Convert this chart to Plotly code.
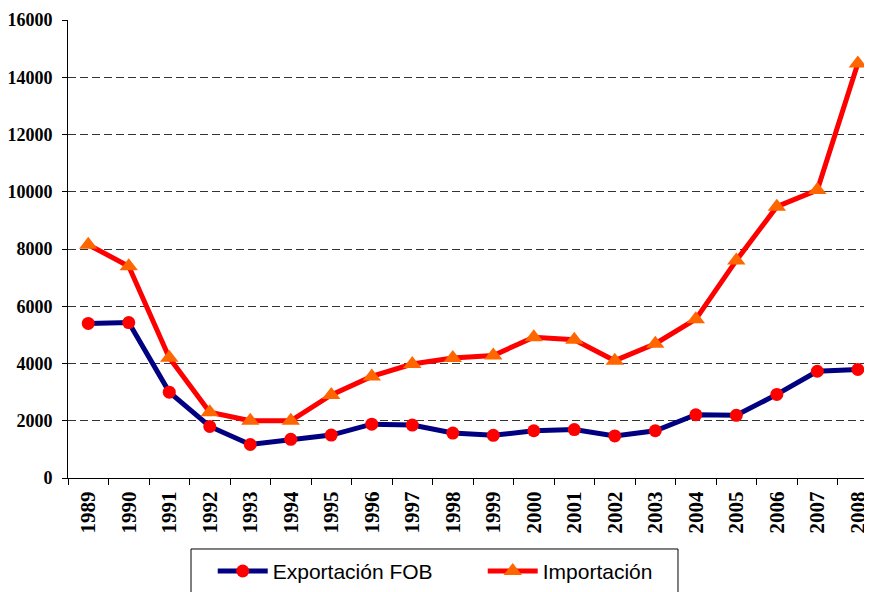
import plotly.graph_objects as go

years = [str(y) for y in range(1989, 2009)]
exportacion = [5400, 5430, 3000, 1800, 1170, 1350, 1500, 1880, 1850, 1570,
               1490, 1650, 1690, 1470, 1650, 2210, 2190, 2920, 3730, 3790]
importacion = [8150, 7400, 4200, 2300, 2000, 2000, 2900, 3550, 3980, 4190,
               4280, 4920, 4830, 4100, 4690, 5550, 7600, 9480, 10060, 14480]
y_ticks = [0, 2000, 4000, 6000, 8000, 10000, 12000, 14000, 16000]

SERIF = "Times New Roman, Liberation Serif, serif"

fig = go.Figure()
fig.add_trace(go.Scatter(
    x=years, y=exportacion, name="Exportación FOB", mode="lines+markers",
    line=dict(color="#000080", width=5),
    marker=dict(symbol="circle", size=13, color="#FF0000"),
))
fig.add_trace(go.Scatter(
    x=years, y=importacion, name="Importación", mode="lines+markers",
    line=dict(color="#FF0000", width=5),
    marker=dict(symbol="triangle-up", size=16, color="#FF6600"),
))

# legend frame (page body has an 8px margin, so figure is 864x584)
fig.add_shape(type="rect", xref="paper", yref="paper",
              x0=0.153, x1=0.7587, y0=-0.155, y1=-0.30,
              line=dict(color="black", width=1), fillcolor="rgba(0,0,0,0)",
              layer="above")

fig.update_layout(
    width=864, height=584,
    margin=dict(l=60, r=0, t=12, b=114, autoexpand=False),
    paper_bgcolor="white", plot_bgcolor="white",
    showlegend=True,
    legend=dict(
        orientation="h", x=0.180, y=-0.159, xanchor="left", yanchor="top",
        font=dict(family="Liberation Sans, Arial, sans-serif", size=21, color="black"),
        borderwidth=0, bgcolor="rgba(0,0,0,0)",
        entrywidth=205, itemwidth=50,
    ),
    xaxis=dict(
        type="category", range=[-0.5, 19.35],
        showline=True, linecolor="black", linewidth=1,
        ticks="outside", ticklen=6, tickcolor="black", tickson="boundaries",
        tickangle=-90, automargin=False,
        tickfont=dict(family=SERIF, size=21, color="black", weight="bold"),
        showgrid=False, ticklabelstandoff=4,
    ),
    yaxis=dict(
        range=[0, 16000], tickvals=y_ticks, tickformat="d",
        showline=True, linecolor="black", linewidth=1,
        ticks="outside", ticklen=5, tickcolor="black", automargin=False,
        tickfont=dict(family=SERIF, size=18, color="black", weight="bold"),
        showgrid=True, gridcolor="#333333", griddash="8px,4px", gridwidth=1,
        zeroline=False, ticklabelstandoff=6,
    ),
)

fig.write_html("out.html")
